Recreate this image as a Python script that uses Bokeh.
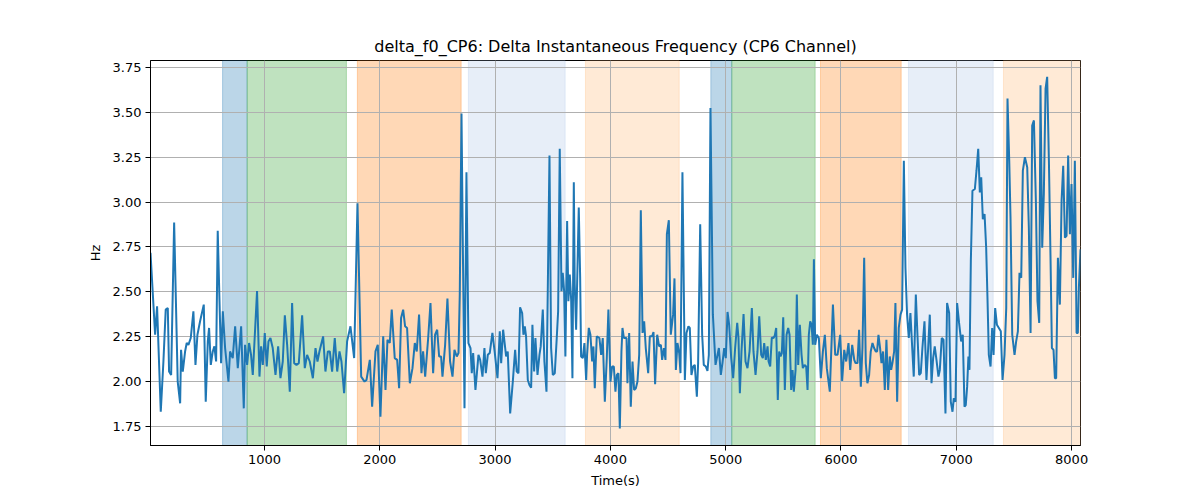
from bokeh.embed import file_html
from bokeh.models import BoxAnnotation, CustomJSTickFormatter, FixedTicker, Range1d
from bokeh.plotting import figure
from bokeh.resources import INLINE

# delta f0 on channel CP6
time = [
    12, 52, 69, 101, 124, 144, 162, 173, 191, 217, 248, 269, 277, 292, 312, 326, 341, 361, 384, 402,
    419, 442, 474, 491, 509, 520, 535, 552, 566, 581, 595, 624, 639, 659, 688, 702, 725, 746, 769, 798,
    821, 832, 850, 867, 884, 899, 936, 957, 971, 986, 1003, 1020, 1035, 1052,
    1072, 1096, 1119, 1139, 1159, 1177, 1197, 1220, 1240, 1258, 1278, 1298, 1327, 1350, 1370, 1393,
    1420, 1443, 1460, 1477, 1509, 1529, 1550, 1567, 1587, 1610, 1631, 1651, 1668, 1691, 1717, 1746,
    1778, 1807, 1839, 1868, 1885, 1914, 1934, 1963, 1983, 2006, 2030, 2050, 2067,
    2087, 2104, 2130, 2151, 2168, 2185, 2203, 2220, 2237, 2261, 2284, 2304, 2321, 2341, 2362, 2376,
    2394, 2420, 2440, 2463, 2480, 2498, 2515, 2532, 2544, 2567, 2587, 2610, 2631, 2648, 2668, 2683,
    2694, 2709, 2735, 2752, 2769, 2787, 2798, 2810, 2830, 2856, 2871, 2891, 2908, 2920, 2937, 2954,
    2977, 2998, 3021, 3041, 3053, 3070,
    3096, 3110, 3131, 3154, 3174, 3188, 3203, 3217, 3235, 3246, 3258, 3269, 3284, 3298, 3313, 3324,
    3339, 3350, 3368, 3385, 3396, 3414, 3428, 3446, 3472, 3486, 3501, 3518, 3535, 3547, 3561, 3576,
    3587, 3599, 3610, 3625, 3636, 3648, 3660, 3671, 3683, 3691, 3703, 3726, 3738, 3746, 3761, 3775,
    3790, 3798, 3813, 3827, 3842, 3853, 3865, 3882, 3905, 3920, 3934, 3952, 3969, 3983, 4001, 4015,
    4030, 4044, 4056, 4070, 4082, 4096,
    4105, 4117, 4131, 4140, 4148, 4163, 4177, 4192, 4206, 4221, 4235, 4250, 4264, 4279, 4293, 4307,
    4328, 4342, 4362, 4374, 4388, 4406, 4423, 4438, 4449, 4464, 4478, 4490, 4507, 4524, 4544, 4556,
    4568, 4582, 4597, 4608, 4625, 4646, 4660, 4677, 4689, 4703, 4718, 4732, 4750, 4761, 4779, 4796,
    4810, 4828, 4842, 4854, 4868, 4889, 4912, 4929, 4941, 4958, 4972, 4987, 5001, 5016, 5030, 5048,
    5065, 5082, 5100, 5111,
    5123, 5137, 5155, 5172, 5189, 5207, 5227, 5241, 5259, 5276, 5291, 5308, 5322, 5334, 5348, 5363,
    5372, 5386, 5400, 5415, 5426, 5438, 5452, 5464, 5476, 5487, 5499, 5513, 5528, 5542, 5554, 5568,
    5580, 5591, 5606, 5617, 5629, 5643, 5658, 5669, 5684, 5698, 5710, 5721, 5733, 5745, 5756, 5765,
    5776, 5791, 5808, 5825, 5843, 5860, 5877, 5903, 5930, 5950, 5970, 5993, 6010, 6028, 6045, 6065,
    6080, 6097, 6115, 6126,
    6143, 6157, 6172, 6186, 6201, 6215, 6229, 6244, 6258, 6273, 6287, 6302, 6313, 6325, 6339, 6351,
    6365, 6380, 6394, 6409, 6423, 6435, 6446, 6461, 6472, 6487, 6501, 6516, 6530, 6545, 6559, 6573,
    6588, 6602, 6617, 6631, 6649, 6663, 6678, 6692, 6706, 6724, 6741, 6756, 6770, 6785, 6799, 6813,
    6828, 6845, 6857, 6874, 6889, 6906, 6920, 6938, 6952, 6967, 6978, 6993, 7007, 7024, 7042, 7056,
    7071, 7082, 7094, 7105, 7114, 7126, 7140,
    7161, 7175, 7190, 7204, 7216, 7230, 7245, 7259, 7271, 7282, 7297, 7311, 7323, 7337, 7352, 7369,
    7386, 7401, 7418, 7433, 7444, 7459, 7470, 7485, 7505, 7519, 7534, 7548, 7563, 7577, 7595, 7615,
    7629, 7644, 7658, 7673, 7690, 7704, 7719, 7730, 7745, 7759, 7774, 7788, 7803, 7817, 7829, 7843,
    7855, 7866, 7881, 7898, 7913, 7927, 7942, 7956, 7970, 7985, 7999, 8014, 8028, 8043, 8054, 8063,
    8077,
]
hz = [
    2.718, 2.261, 2.420, 1.832, 2.112, 2.401, 2.410, 2.056, 2.037, 2.886, 2.000, 1.879, 2.177, 2.056, 2.168, 2.215, 2.205, 2.243, 2.392, 2.093,
    2.261, 2.336, 2.429, 1.888, 2.224, 2.299, 2.093, 2.168, 2.196, 2.112, 2.840, 2.103, 2.392, 2.187, 2.000, 2.168, 2.131, 2.308, 2.075, 2.308,
    1.851, 2.205, 2.093, 2.215, 2.149, 2.037, 2.504, 2.028, 2.196, 2.093, 2.271, 2.084, 2.224, 2.243,
    2.187, 2.037, 2.196, 2.019, 2.112, 2.369, 2.205, 1.944, 2.438, 2.103, 2.093, 2.103, 2.369, 2.075, 2.149, 2.112,
    2.019, 2.187, 2.112, 2.168, 2.252, 2.056, 2.168, 2.168, 2.056, 2.243, 2.056, 2.168, 2.112, 1.935, 2.224, 2.308,
    2.131, 2.993, 2.028, 2.000, 2.009, 2.121, 1.860, 2.168, 2.205, 1.804, 2.252, 1.953, 2.233,
    2.215, 2.401, 2.131, 2.121, 1.963, 2.354, 2.401, 2.308, 2.299, 1.991, 2.075, 2.215, 2.168, 2.373, 2.047, 2.168,
    2.028, 2.243, 2.438, 2.047, 2.261, 2.289, 2.140, 2.140, 2.028, 2.205, 2.463, 2.112, 2.028, 2.177, 2.140, 2.159,
    2.485, 3.493, 1.851, 3.166, 2.215, 2.187, 2.047, 2.159, 1.953, 2.149, 2.121, 2.028, 2.187, 2.047, 2.149, 2.159,
    2.271, 2.159, 2.019, 2.280, 2.103, 2.289,
    2.140, 2.168, 1.823, 2.000, 2.177, 2.056, 2.047, 2.414, 2.382, 2.261, 2.308, 2.252, 2.009, 1.981, 1.966, 2.317,
    2.056, 2.243, 2.037, 2.149, 2.196, 2.401, 2.112, 1.944, 3.259, 2.187, 2.037, 2.047, 2.243, 2.392, 3.297, 2.504,
    2.606, 2.504, 2.140, 2.895, 2.448, 2.597, 2.457, 2.019, 3.110, 2.541, 2.289, 2.970, 2.578, 2.140, 2.131, 2.215,
    2.009, 2.149, 2.299, 2.261, 2.112, 2.196, 1.963, 2.252, 2.243, 2.149, 2.243, 1.888, 2.131, 2.401, 2.000, 2.084,
    2.084, 1.944, 2.037, 2.047, 1.739, 2.168,
    2.299, 2.243, 2.243, 2.243, 1.991, 2.271, 1.860, 2.112, 1.953, 1.963, 2.000, 2.149, 2.955, 2.271, 2.336, 2.187,
    2.047, 2.252, 2.252, 2.276, 1.985, 2.261, 2.196, 2.205, 2.121, 2.187, 2.121, 2.821, 2.899, 2.261, 2.373, 2.575,
    2.065, 2.215, 2.159, 2.047, 3.166, 2.009, 2.271, 2.308, 2.299, 2.037, 2.084, 2.093, 1.916, 2.103, 2.877, 2.261,
    2.093, 2.084, 2.060, 2.149, 3.524, 2.373, 2.093, 2.149, 2.187, 2.037, 2.103, 2.187, 2.131, 2.388, 2.317, 2.131,
    2.019, 2.187, 2.327, 2.243,
    1.935, 2.168, 2.377, 2.112, 2.075, 2.168, 2.410, 2.168, 2.037, 2.168, 2.364, 2.149, 2.131, 2.215, 2.121, 2.196,
    2.112, 2.084, 2.246, 2.243, 2.257, 2.299, 1.897, 2.168, 2.140, 2.159, 2.358, 1.953, 2.261, 2.299, 2.261, 1.953,
    2.065, 1.944, 2.065, 2.485, 2.093, 2.317, 2.149, 2.075, 2.093, 2.084, 1.953, 2.261, 2.336, 2.317, 2.205, 2.681,
    2.205, 2.261, 2.243, 2.019, 2.168, 2.261, 2.075, 1.944, 2.429, 2.149, 2.149, 2.261, 2.004, 2.177, 2.112, 2.215,
    2.065, 2.205, 2.121, 2.103,
    2.103, 2.289, 1.972, 2.187, 2.690, 2.103, 1.991, 2.037, 2.168, 2.215, 2.187, 2.168, 2.168, 2.261, 2.187, 2.103,
    2.168, 1.953, 2.233, 1.953, 2.140, 2.065, 2.103, 2.168, 2.438, 1.888, 2.299, 2.373, 2.401, 3.231, 2.634, 2.373,
    2.243, 2.382, 2.196, 2.028, 2.485, 2.261, 2.037, 2.047, 2.187, 2.336, 2.009, 2.187, 2.373, 1.991, 2.131, 2.196,
    2.121, 2.028, 2.065, 2.243, 2.233, 1.823, 2.438, 2.382, 1.888, 1.832, 1.907, 1.888, 2.438, 2.327, 2.224, 2.261,
    1.860, 1.869, 1.972, 2.140, 2.065, 2.672, 3.063,
    3.073, 3.175, 3.297, 3.054, 3.138, 2.905, 2.933, 2.746, 2.448, 2.149, 2.084, 2.299, 2.149, 2.410, 2.317, 2.299,
    2.280, 2.009, 2.149, 2.410, 3.577, 3.231, 2.914, 2.261, 2.149, 2.224, 2.280, 2.606, 2.578, 3.175, 3.250, 3.194,
    2.858, 2.271, 3.427, 3.455, 3.007, 2.448, 2.327, 3.651, 2.746, 3.045, 3.632, 3.698, 3.231, 2.690, 2.187, 2.177,
    2.019, 2.019, 2.690, 2.429, 3.007, 3.203, 2.802, 2.812, 3.259, 2.821, 3.101, 2.578, 3.231, 2.271, 2.271, 2.522,
    2.737,
]

# shaded phases (start, end in seconds)
span_start = [637, 850, 1806, 2769, 3784, 4871, 5053, 5822, 6585, 7409]
span_end = [850, 1711, 2706, 3608, 4597, 5053, 5776, 6522, 7320, 8077]

x_ticks = [1000, 2000, 3000, 4000, 5000, 6000, 7000, 8000]
y_ticks = [1.75, 2.00, 2.25, 2.50, 2.75, 3.00, 3.25, 3.50, 3.75]

# phase styles repeat every five spans
phase_styles = [
    ("#1f77b4", 0.3),
    ("#2ca02c", 0.3),
    ("#ff7f0e", 0.3),
    ("#aec7e8", 0.3),
    ("#ffbb78", 0.3),
]

FONT = "DejaVu Sans"

p = figure(width=1192, height=492, output_backend="svg", toolbar_location=None,
           title="delta_f0_CP6: Delta Instantaneous Frequency (CP6 Channel)",
           x_range=Range1d(min(time), max(time)), y_range=Range1d(1.644, 3.789),
           min_border_left=150, min_border_right=112, min_border_top=60, min_border_bottom=47)
p.background_fill_color = "white"
p.border_fill_color = "white"
p.outline_line_color = "black"
p.outline_line_alpha = 1

p.title.align = "center"
p.title.text_font = FONT
p.title.text_font_size = "16px"
p.title.text_font_style = "normal"
p.title.text_color = "black"

for i, (s, e) in enumerate(zip(span_start, span_end)):
    color, alpha = phase_styles[i % len(phase_styles)]
    p.add_layout(BoxAnnotation(left=s, right=e, fill_color=color, fill_alpha=alpha,
                               line_color=color, line_alpha=alpha, line_width=1, level="image"))

p.line(time, hz, line_color="#1f77b4", line_width=2)

p.xaxis.ticker = FixedTicker(ticks=x_ticks)
p.yaxis.ticker = FixedTicker(ticks=y_ticks)
p.yaxis.formatter = CustomJSTickFormatter(code="return tick.toFixed(2);")
p.xgrid.ticker = FixedTicker(ticks=x_ticks)
p.ygrid.ticker = FixedTicker(ticks=y_ticks)
p.grid.grid_line_color = "#b0b0b0"
p.grid.grid_line_width = 1

p.xaxis.axis_label = "Time(s)"
p.yaxis.axis_label = "Hz"
for ax in (p.xaxis, p.yaxis):
    ax.axis_label_text_font = FONT
    ax.axis_label_text_font_size = "13px"
    ax.axis_label_text_font_style = "normal"
    ax.axis_label_text_color = "black"
    ax.major_label_text_font = FONT
    ax.major_label_text_font_size = "13px"
    ax.major_label_text_color = "black"
    ax.axis_line_color = "black"
    ax.major_tick_line_color = "black"
    ax.major_tick_out = 5
    ax.major_tick_in = 0
    ax.minor_tick_line_color = None
    ax.major_label_standoff = 4
p.xaxis.axis_label_standoff = 6
p.yaxis.axis_label_standoff = 7

open("out.html", "w").write(file_html(p, INLINE))
